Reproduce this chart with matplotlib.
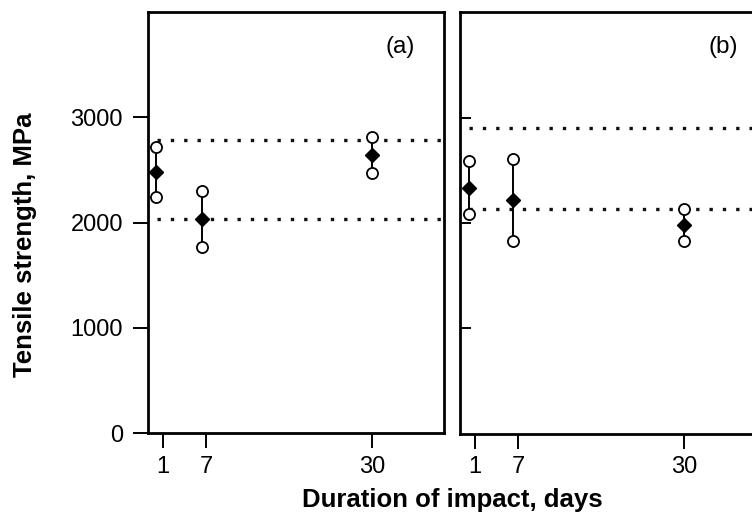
import numpy as np
import matplotlib.pyplot as plt

plt.rcParams['font.family'] = ['Liberation Sans', 'DejaVu Sans']

# Data
days_ticks = [1, 7, 30]

# panel (a)
x_a = [0.0, 6.4, 30.0]
mean_a = [2477, 2035, 2645]
upper_a = [2714, 2297, 2815]
lower_a = [2246, 1766, 2467]
ref_a = [2784, 2035]

# panel (b)
x_b = [0.2, 6.3, 30.0]
mean_b = [2335, 2218, 1984]
upper_b = [2585, 2604, 2135]
lower_b = [2085, 1829, 1832]
ref_b = [2903, 2130]

fig = plt.figure(figsize=(7.52, 5.22), dpi=100)
ax1 = fig.add_axes([0.1968, 0.1699, 0.3936, 0.8071])
ax2 = fig.add_axes([0.6117, 0.1686, 0.3936, 0.8084])


def draw_panel(ax, x, mean, upper, lower, ref, label, lx):
    for r in ref:
        ax.plot([0.2, 40], [r, r], color='#111111', lw=2.4,
                linestyle=(0, (1, 3.0)), zorder=1)
    ax.vlines(x, lower, upper, color='black', lw=1.4, zorder=2)
    ax.plot(x, upper, 'o', ms=8, mfc='white', mec='black', mew=1.3, zorder=3)
    ax.plot(x, lower, 'o', ms=8, mfc='white', mec='black', mew=1.3, zorder=3)
    ax.plot(x, mean, 'D', ms=7, color='black', zorder=4)
    ax.set_xlim(-1.05, 40)
    ax.set_ylim(0, 4000)
    ax.set_xticks(days_ticks)
    ax.set_xticklabels([str(d) for d in days_ticks], fontsize=17)
    ax.tick_params(axis='x', direction='out', length=11, width=1.4, pad=5)
    for s in ax.spines.values():
        s.set_linewidth(2)
    ax.text(lx, 0.917, label, transform=ax.transAxes, fontsize=17.5,
            ha='center', va='center')


draw_panel(ax1, x_a, mean_a, upper_a, lower_a, ref_a, '(a)', 0.851)
draw_panel(ax2, x_b, mean_b, upper_b, lower_b, ref_b, '(b)', 0.889)

ax1.set_yticks([0, 1000, 2000, 3000])
ax1.set_yticklabels(['0', '1000', '2000', '3000'], fontsize=17)
ax1.tick_params(axis='y', direction='out', length=11, width=1.4, pad=7)

ax2.set_yticks([1000, 2000, 3000])
ax2.set_yticklabels([])
ax2.tick_params(axis='y', direction='in', length=8, width=1.4)

fig.text(0.033, 0.532, 'Tensile strength, MPa', rotation=90, fontsize=18.5,
         fontweight='bold', ha='center', va='center')
fig.text(0.601, 0.042, 'Duration of impact, days', fontsize=18.5,
         fontweight='bold', ha='center', va='center')

fig.savefig('out.png', dpi=100)
